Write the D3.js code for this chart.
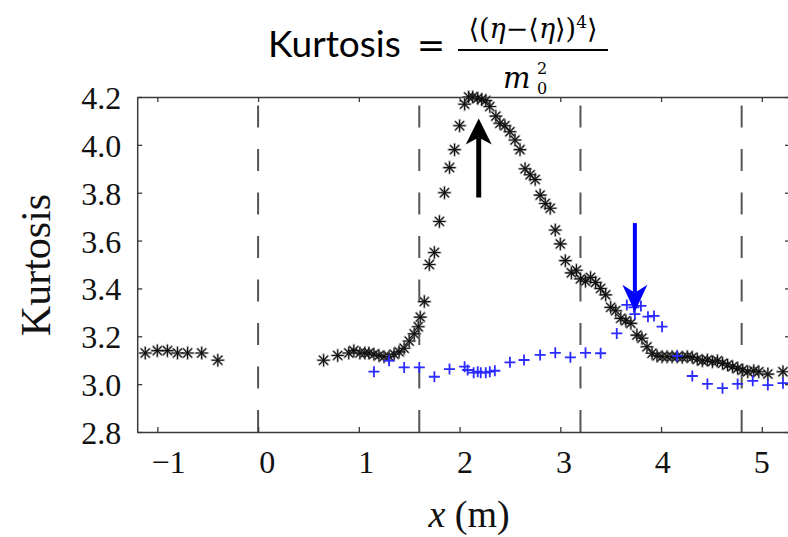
<!DOCTYPE html>
<html>
<head>
<meta charset="utf-8">
<script src="https://cdn.jsdelivr.net/npm/d3@7"></script>
<style>
  body { margin: 0; background: #fff; }
  svg { display: block; }
</style>
</head>
<body>
<svg id="canvas" width="788" height="537"></svg>
<script>
// measured series, x in metres
let starX = [-1.12, -1.00, -0.90, -0.80, -0.70, -0.56, -0.40,
  0.65, 0.79, 0.90, 0.95, 1.01, 1.06, 1.10, 1.15, 1.20, 1.25, 1.30, 1.35, 1.40, 1.45,
  1.50, 1.55, 1.59, 1.61, 1.65, 1.70, 1.75, 1.80, 1.85, 1.90, 1.95, 2.00, 2.05, 2.09,
  2.13, 2.18, 2.22, 2.26, 2.30, 2.36, 2.40, 2.45, 2.50, 2.55, 2.60, 2.65, 2.70, 2.75,
  2.80, 2.85, 2.90, 2.95, 3.00, 3.05, 3.11, 3.16, 3.20, 3.25, 3.30, 3.35, 3.40, 3.45,
  3.50, 3.55, 3.60, 3.65, 3.70, 3.76, 3.81, 3.86, 3.91, 3.96, 4.01, 4.06, 4.11, 4.16,
  4.21, 4.26, 4.31, 4.36, 4.41, 4.46, 4.51, 4.56, 4.61, 4.66, 4.71, 4.76, 4.81, 4.86,
  4.92, 4.97, 5.06, 5.21]
let starY = [3.13, 3.14, 3.14, 3.13, 3.13, 3.13, 3.10,
  3.10, 3.12, 3.13, 3.14, 3.13, 3.13, 3.13, 3.125, 3.12, 3.115, 3.115, 3.125, 3.135, 3.15,
  3.18, 3.21, 3.24, 3.28, 3.345, 3.50, 3.55, 3.68, 3.80, 3.905, 3.98, 4.08, 4.17, 4.20,
  4.20, 4.195, 4.19, 4.185, 4.16, 4.12, 4.09, 4.08, 4.055, 4.02, 3.98, 3.90, 3.875, 3.855,
  3.79, 3.755, 3.735, 3.644, 3.586, 3.516, 3.465, 3.476, 3.44, 3.43, 3.446, 3.425, 3.40, 3.373,
  3.321, 3.307, 3.275, 3.265, 3.254, 3.205, 3.192, 3.156, 3.129, 3.118, 3.115, 3.115, 3.115, 3.115,
  3.112, 3.115, 3.112, 3.104, 3.098, 3.101, 3.094, 3.098, 3.087, 3.080, 3.073, 3.066, 3.059, 3.052,
  3.056, 3.052, 3.042, 3.052]

let plusX = [1.15, 1.30, 1.45, 1.60, 1.75, 1.90, 2.05, 2.08, 2.14, 2.18, 2.21, 2.26, 2.30, 2.35,
  2.50, 2.64, 2.80, 2.95, 3.10, 3.25, 3.40, 3.56, 3.66, 3.73, 3.80, 3.74, 3.87, 3.93, 4.01,
  4.16, 4.31, 4.46, 4.61, 4.76, 4.91, 5.06, 5.21]
let plusY = [3.052, 3.098, 3.070, 3.070, 3.031, 3.063, 3.073, 3.059, 3.048, 3.052, 3.048, 3.048, 3.052, 3.056,
  3.091, 3.101, 3.122, 3.131, 3.112, 3.131, 3.129, 3.212, 3.331, 3.321, 3.327, 3.293, 3.282, 3.285, 3.240,
  3.118, 3.034, 3.001, 2.983, 3.001, 3.014, 2.996, 3.004]

let xTicks = [-1, 0, 1, 2, 3, 4, 5]
let xTickLabels = ['\u22121', '0', '1', '2', '3', '4', '5']
let yTicks = [2.8, 3.0, 3.2, 3.4, 3.6, 3.8, 4.0, 4.2]
let dashedX = [0, 1.6, 3.2, 4.8]

// annotation arrows: [x, tail y, tip y]
let blackArrow = [2.19, 3.78, 4.11]
let blueArrow = [3.74, 3.673, 3.303]

let canvas = d3.select('#canvas')

let xScale = d3.scaleLinear().domain([-1.2, 5.26]).range([137.2, 788])
let yScale = d3.scaleLinear().domain([2.8, 4.2]).range([432, 97])
// tick labels sit on a slightly narrower spacing than the ticks in the source
let xLabelScale = d3.scaleLinear().domain([0, 5]).range([267.3, 761.7])

let serif = "'Liberation Serif', 'Times New Roman', serif"
let axisColor = '#3a3a3a'

// dashed vertical guides
canvas.selectAll('line.guide')
  .data(dashedX)
  .enter()
  .append('line')
  .attr('class', 'guide')
  .attr('x1', d => xScale(d))
  .attr('x2', d => xScale(d))
  .attr('y1', yScale(2.8))
  .attr('y2', yScale(4.2))
  .attr('stroke', '#555')
  .attr('stroke-width', 2)
  .attr('stroke-dasharray', '22,21.5')

let styleAxis = (g) => {
  g.select('.domain').attr('stroke', axisColor).attr('stroke-width', 1.5)
  g.selectAll('.tick line').attr('stroke', axisColor).attr('stroke-width', 1.3)
}

canvas.append('g')
  .attr('transform', `translate(0, ${yScale(2.8)})`)
  .call(d3.axisBottom(xScale).tickValues(xTicks).tickSize(-5).tickSizeOuter(0).tickFormat(''))
  .call(styleAxis)

canvas.append('g')
  .attr('transform', `translate(0, ${yScale(4.2)})`)
  .call(d3.axisTop(xScale).tickValues(xTicks).tickSize(-5).tickSizeOuter(0).tickFormat(''))
  .call(styleAxis)

let yAxisG = canvas.append('g')
  .attr('transform', `translate(${xScale(-1.2)}, 0)`)
  .call(d3.axisLeft(yScale).tickValues(yTicks).tickSize(-5).tickSizeOuter(0)
    .tickPadding(16).tickFormat(d3.format('.1f')))
  .call(styleAxis)
yAxisG.selectAll('.tick text')
  .attr('font-family', serif)
  .attr('font-size', 32)
  .attr('fill', '#111')
  .attr('dy', '0.36em')

canvas.append('g')
  .attr('transform', `translate(790, 0)`)
  .call(d3.axisRight(yScale).tickValues(yTicks).tickSize(-5).tickSizeOuter(0).tickFormat(''))
  .call(styleAxis)

// x tick labels
canvas.selectAll('text.xlab')
  .data(xTicks)
  .enter()
  .append('text')
  .attr('class', 'xlab')
  .attr('x', d => xLabelScale(d))
  .attr('y', 473)
  .attr('text-anchor', 'middle')
  .attr('font-family', serif)
  .attr('font-size', 32)
  .attr('fill', '#111')
  .text((d, i) => xTickLabels[i])

// axis titles
canvas.append('text')
  .attr('transform', 'translate(50, 265) rotate(-90)')
  .attr('text-anchor', 'middle')
  .attr('font-family', serif)
  .attr('font-size', 42)
  .attr('fill', '#111')
  .text('Kurtosis')

let xTitle = canvas.append('text')
  .attr('x', 469)
  .attr('y', 527)
  .attr('text-anchor', 'middle')
  .attr('font-family', serif)
  .attr('font-size', 38)
  .attr('fill', '#111')
xTitle.append('tspan').attr('font-style', 'italic').text('x')
xTitle.append('tspan').text(' (m)')

// markers
let starPath = 'M0,-7V7M-7,0H7M-5,-5L5,5M-5,5L5,-5'
let stars = canvas.append('g')
starX.forEach((sx, i) => {
  stars.append('path')
    .attr('d', starPath)
    .attr('transform', `translate(${xScale(sx)}, ${yScale(starY[i])})`)
    .attr('fill', 'none')
    .attr('stroke', '#888')
    .attr('stroke-width', 2.2)
    .attr('opacity', 0.7)
})
starX.forEach((sx, i) => {
  stars.append('path')
    .attr('d', 'M0,-6V6M-6,0H6M-4.3,-4.3L4.3,4.3M-4.3,4.3L4.3,-4.3')
    .attr('transform', `translate(${xScale(sx)}, ${yScale(starY[i])})`)
    .attr('fill', 'none')
    .attr('stroke', '#111')
    .attr('stroke-width', 1.1)
})

canvas.append('g')
  .selectAll('path')
  .data(plusX)
  .enter()
  .append('path')
  .attr('d', 'M0,-5.5V5.5M-5.5,0H5.5')
  .attr('transform', (d, i) => `translate(${xScale(d)}, ${yScale(plusY[i])})`)
  .attr('fill', 'none')
  .attr('stroke', '#2b2bff')
  .attr('stroke-width', 1.8)

// arrows
let drawArrow = (a, color, shaft, headW, headL, notch) => {
  let ax = xScale(a[0])
  let tail = yScale(a[1])
  let tip = yScale(a[2])
  let dir = tail > tip ? 1 : -1
  canvas.append('line')
    .attr('x1', ax).attr('x2', ax)
    .attr('y1', tail).attr('y2', tip + dir * notch)
    .attr('stroke', color)
    .attr('stroke-width', shaft)
  canvas.append('path')
    .attr('d', `M${ax},${tip}L${ax - headW / 2},${tip + dir * headL}L${ax},${tip + dir * notch}L${ax + headW / 2},${tip + dir * headL}Z`)
    .attr('fill', color)
}
drawArrow(blackArrow, '#000', 5, 26, 26, 19)
drawArrow(blueArrow, '#0000ff', 4, 25, 27, 19)

// title with formula
let sans = "Lato, 'Open Sans', sans-serif"
let mathFont = "'DejaVu Serif', 'Liberation Serif', serif"
canvas.append('text')
  .attr('x', 268).attr('y', 57)
  .attr('font-family', sans).attr('font-size', 37).attr('fill', '#000')
  .text('Kurtosis')
canvas.append('text')
  .attr('x', 431).attr('y', 57)
  .attr('text-anchor', 'middle')
  .attr('font-family', mathFont).attr('font-size', 34).attr('fill', '#000')
  .text('=')
let num = canvas.append('text')
  .attr('x', 533).attr('y', 38)
  .attr('text-anchor', 'middle')
  .attr('font-family', mathFont).attr('font-size', 27).attr('fill', '#000')
num.append('tspan').text('\u27E8(')
num.append('tspan').attr('font-style', 'italic').text('\u03B7')
num.append('tspan').text('\u2212\u27E8')
num.append('tspan').attr('font-style', 'italic').text('\u03B7')
num.append('tspan').text('\u27E9)')
num.append('tspan').attr('font-size', 17).attr('dy', -10).text('4')
num.append('tspan').attr('dy', 10).text('\u27E9')
canvas.append('line')
  .attr('x1', 458).attr('x2', 608)
  .attr('y1', 50).attr('y2', 50)
  .attr('stroke', '#000').attr('stroke-width', 2)
canvas.append('text')
  .attr('x', 503).attr('y', 88)
  .attr('font-family', mathFont).attr('font-size', 29).attr('font-style', 'italic').attr('fill', '#000')
  .text('m')
canvas.append('text')
  .attr('x', 537).attr('y', 74)
  .attr('font-family', mathFont).attr('font-size', 16).attr('fill', '#000')
  .text('2')
canvas.append('text')
  .attr('x', 537).attr('y', 94)
  .attr('font-family', mathFont).attr('font-size', 16).attr('fill', '#000')
  .text('0')
</script>
</body>
</html>
